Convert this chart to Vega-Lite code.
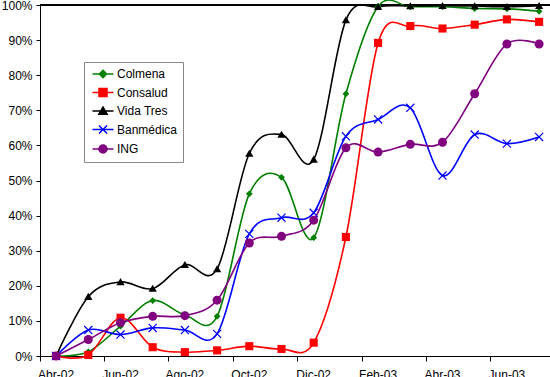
{
  "$schema": "https://vega.github.io/schema/vega-lite/v6.json",
  "width": 510,
  "height": 351,
  "autosize": {"type": "none"},
  "padding": {"left": 40, "top": 5, "right": 0, "bottom": 21},
  "config": {
    "view": {"stroke": null},
    "font": "Liberation Sans"
  },
  "data": {
    "values": [
      {"m": "Abr-02", "s": "Colmena", "v": 0}, {"m": "May-02", "s": "Colmena", "v": 0.012}, {"m": "Jun-02", "s": "Colmena", "v": 0.085}, {"m": "Jul-02", "s": "Colmena", "v": 0.158}, {"m": "Ago-02", "s": "Colmena", "v": 0.117}, {"m": "Sep-02", "s": "Colmena", "v": 0.113}, {"m": "Oct-02", "s": "Colmena", "v": 0.462}, {"m": "Nov-02", "s": "Colmena", "v": 0.509}, {"m": "Dic-02", "s": "Colmena", "v": 0.337}, {"m": "Ene-03", "s": "Colmena", "v": 0.747}, {"m": "Feb-03", "s": "Colmena", "v": 0.996}, {"m": "Mar-03", "s": "Colmena", "v": 0.995}, {"m": "Abr-03", "s": "Colmena", "v": 0.995}, {"m": "May-03", "s": "Colmena", "v": 0.99}, {"m": "Jun-03", "s": "Colmena", "v": 0.989}, {"m": "Jul-03", "s": "Colmena", "v": 0.982},
      {"m": "Abr-02", "s": "Consalud", "v": 0}, {"m": "May-02", "s": "Consalud", "v": 0.003}, {"m": "Jun-02", "s": "Consalud", "v": 0.109}, {"m": "Jul-02", "s": "Consalud", "v": 0.025}, {"m": "Ago-02", "s": "Consalud", "v": 0.011}, {"m": "Sep-02", "s": "Consalud", "v": 0.016}, {"m": "Oct-02", "s": "Consalud", "v": 0.028}, {"m": "Nov-02", "s": "Consalud", "v": 0.02}, {"m": "Dic-02", "s": "Consalud", "v": 0.038}, {"m": "Ene-03", "s": "Consalud", "v": 0.339}, {"m": "Feb-03", "s": "Consalud", "v": 0.892}, {"m": "Mar-03", "s": "Consalud", "v": 0.94}, {"m": "Abr-03", "s": "Consalud", "v": 0.933}, {"m": "May-03", "s": "Consalud", "v": 0.944}, {"m": "Jun-03", "s": "Consalud", "v": 0.959}, {"m": "Jul-03", "s": "Consalud", "v": 0.952},
      {"m": "Abr-02", "s": "Vida Tres", "v": 0}, {"m": "May-02", "s": "Vida Tres", "v": 0.169}, {"m": "Jun-02", "s": "Vida Tres", "v": 0.211}, {"m": "Jul-02", "s": "Vida Tres", "v": 0.192}, {"m": "Ago-02", "s": "Vida Tres", "v": 0.26}, {"m": "Sep-02", "s": "Vida Tres", "v": 0.248}, {"m": "Oct-02", "s": "Vida Tres", "v": 0.577}, {"m": "Nov-02", "s": "Vida Tres", "v": 0.631}, {"m": "Dic-02", "s": "Vida Tres", "v": 0.56}, {"m": "Ene-03", "s": "Vida Tres", "v": 0.957}, {"m": "Feb-03", "s": "Vida Tres", "v": 0.995}, {"m": "Mar-03", "s": "Vida Tres", "v": 0.997}, {"m": "Abr-03", "s": "Vida Tres", "v": 0.998}, {"m": "May-03", "s": "Vida Tres", "v": 0.997}, {"m": "Jun-03", "s": "Vida Tres", "v": 0.995}, {"m": "Jul-03", "s": "Vida Tres", "v": 0.998},
      {"m": "Abr-02", "s": "Banmédica", "v": 0}, {"m": "May-02", "s": "Banmédica", "v": 0.074}, {"m": "Jun-02", "s": "Banmédica", "v": 0.061}, {"m": "Jul-02", "s": "Banmédica", "v": 0.08}, {"m": "Ago-02", "s": "Banmédica", "v": 0.074}, {"m": "Sep-02", "s": "Banmédica", "v": 0.063}, {"m": "Oct-02", "s": "Banmédica", "v": 0.348}, {"m": "Nov-02", "s": "Banmédica", "v": 0.394}, {"m": "Dic-02", "s": "Banmédica", "v": 0.408}, {"m": "Ene-03", "s": "Banmédica", "v": 0.626}, {"m": "Feb-03", "s": "Banmédica", "v": 0.674}, {"m": "Mar-03", "s": "Banmédica", "v": 0.707}, {"m": "Abr-03", "s": "Banmédica", "v": 0.514}, {"m": "May-03", "s": "Banmédica", "v": 0.631}, {"m": "Jun-03", "s": "Banmédica", "v": 0.605}, {"m": "Jul-03", "s": "Banmédica", "v": 0.624},
      {"m": "Abr-02", "s": "ING", "v": 0}, {"m": "May-02", "s": "ING", "v": 0.047}, {"m": "Jun-02", "s": "ING", "v": 0.095}, {"m": "Jul-02", "s": "ING", "v": 0.113}, {"m": "Ago-02", "s": "ING", "v": 0.115}, {"m": "Sep-02", "s": "ING", "v": 0.159}, {"m": "Oct-02", "s": "ING", "v": 0.322}, {"m": "Nov-02", "s": "ING", "v": 0.341}, {"m": "Dic-02", "s": "ING", "v": 0.387}, {"m": "Ene-03", "s": "ING", "v": 0.593}, {"m": "Feb-03", "s": "ING", "v": 0.581}, {"m": "Mar-03", "s": "ING", "v": 0.603}, {"m": "Abr-03", "s": "ING", "v": 0.609}, {"m": "May-03", "s": "ING", "v": 0.747}, {"m": "Jun-03", "s": "ING", "v": 0.889}, {"m": "Jul-03", "s": "ING", "v": 0.889}
    ]
  },
  "encoding": {
    "x": {
      "field": "m",
      "type": "ordinal",
      "sort": null,
      "scale": {"type": "band", "paddingInner": 0, "paddingOuter": 0, "range": [0, 515.2]},
      "axis": {
        "title": null,
        "values": ["Abr-02", "Jun-02", "Ago-02", "Oct-02", "Dic-02", "Feb-03", "Abr-03", "Jun-03"],
        "bandPosition": 0,
        "labelAngle": 0,
        "tickSize": 5,
        "labelPadding": 8,
        "domainColor": "black",
        "tickColor": "black",
        "labelColor": "black",
        "labelFont": "Liberation Sans",
        "labelFontSize": 12,
        "grid": false
      }
    },
    "y": {
      "field": "v",
      "type": "quantitative",
      "scale": {"domain": [0, 1], "nice": false},
      "axis": {
        "title": null,
        "values": [0, 0.1, 0.2, 0.3, 0.4, 0.5, 0.6, 0.7, 0.8, 0.9, 1],
        "format": ".0%",
        "tickSize": 4,
        "labelPadding": 4,
        "domainColor": "black",
        "tickColor": "black",
        "labelColor": "black",
        "labelFont": "Liberation Sans",
        "labelFontSize": 12,
        "grid": false
      }
    }
  },
  "layer": [
    {
      "mark": {"type": "rule", "color": "black", "strokeWidth": 1},
      "encoding": {"y": {"datum": 1}, "x": null}
    },
    {
      "mark": {"type": "line", "interpolate": "cardinal", "strokeWidth": 1.6},
      "encoding": {
        "color": {
          "field": "s",
          "type": "nominal",
          "sort": null,
          "scale": {
            "domain": ["Colmena", "Consalud", "Vida Tres", "Banmédica", "ING"],
            "range": ["#008000", "#FF0000", "#000000", "#0000FF", "#800080"]
          },
          "legend": {
            "title": null,
            "orient": "none",
            "legendX": 44,
            "legendY": 57,
            "padding": 5,
            "strokeColor": "#888888",
            "fillColor": "white",
            "labelFont": "Liberation Sans",
            "labelFontSize": 12,
            "labelColor": "black",
            "symbolSize": 144,
            "symbolStrokeWidth": 1.5,
            "symbolOffset": 7,
            "labelOffset": 7,
            "rowPadding": 3.5,
            "encode": {
              "symbols": {
                "update": {
                  "shape": {"signal": "datum.value==='Colmena'?'M-1.75,0L1.75,0M0,-0.6L0.6,0L0,0.6L-0.6,0Z':datum.value==='Consalud'?'M-1.75,0L1.75,0M-0.67,-0.67L0.67,-0.67L0.67,0.67L-0.67,0.67Z':datum.value==='Vida Tres'?'M-1.75,0L1.75,0M0,-0.65L0.7,0.55L-0.7,0.55Z':datum.value==='Banmédica'?'M-1.75,0L1.75,0M-0.67,-0.67L0.67,0.67M-0.67,0.67L0.67,-0.67':'M-1.75,0L1.75,0M0.67,0C0.67,0.37 0.37,0.67 0,0.67C-0.37,0.67 -0.67,0.37 -0.67,0C-0.67,-0.37 -0.37,-0.67 0,-0.67C0.37,-0.67 0.67,-0.37 0.67,0Z'"},
                  "fill": {"scale": "color", "field": "value"},
                  "stroke": {"scale": "color", "field": "value"},
                  "strokeWidth": {"value": 1.5},
                  "opacity": {"value": 1}
                }
              }
            }
          }
        }
      }
    },
    {
      "transform": [{"filter": {"field": "s", "equal": "Colmena"}}],
      "mark": {"type": "point", "filled": true, "opacity": 1, "size": 81, "color": "#008000", "shape": "M0,-0.75L0.75,0L0,0.75L-0.75,0Z"}
    },
    {
      "transform": [{"filter": {"field": "s", "equal": "Consalud"}}],
      "mark": {"type": "point", "filled": true, "opacity": 1, "size": 81, "color": "#FF0000", "shape": "M-0.9,-0.9L0.9,-0.9L0.9,0.9L-0.9,0.9Z"}
    },
    {
      "transform": [{"filter": {"field": "s", "equal": "Vida Tres"}}],
      "mark": {"type": "point", "filled": true, "opacity": 1, "size": 81, "color": "#000000", "shape": "M0,-0.85L0.92,0.72L-0.92,0.72Z"}
    },
    {
      "transform": [{"filter": {"field": "s", "equal": "Banmédica"}}],
      "mark": {"type": "point", "filled": false, "opacity": 1, "size": 81, "strokeWidth": 1.2, "color": "#0000FF", "shape": "M-0.9,-0.9L0.9,0.9M-0.9,0.9L0.9,-0.9"}
    },
    {
      "transform": [{"filter": {"field": "s", "equal": "ING"}}],
      "mark": {"type": "point", "filled": true, "opacity": 1, "size": 81, "color": "#800080", "shape": "circle"}
    }
  ]
}
